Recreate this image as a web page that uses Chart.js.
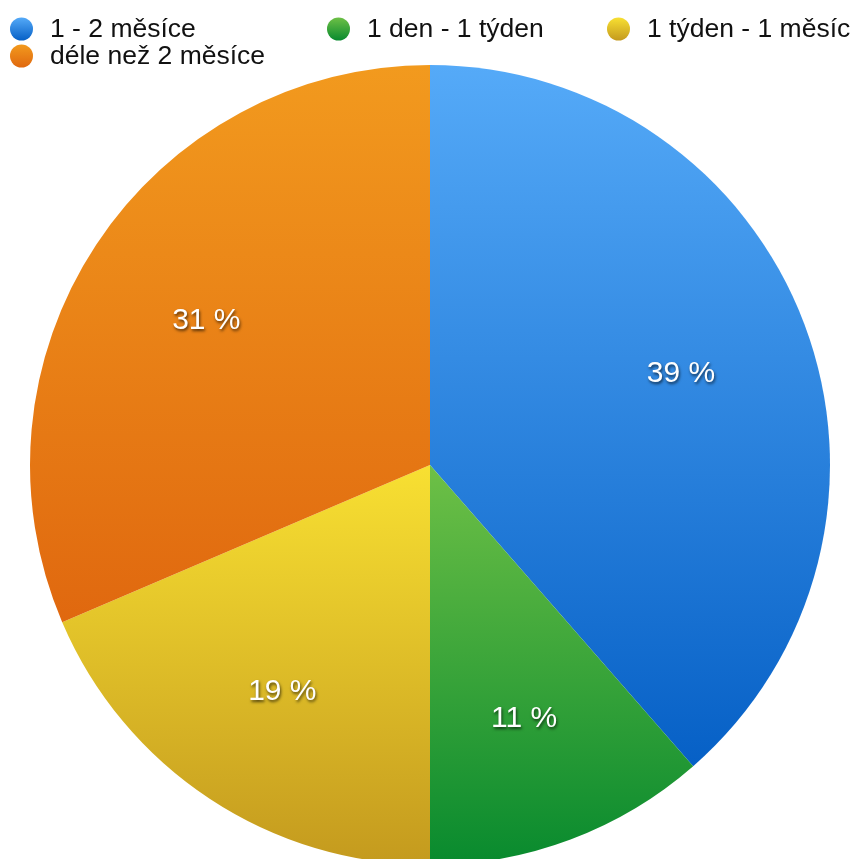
<!DOCTYPE html>
<html lang="cs">
<head>
    <meta charset="UTF-8">
    <script src="https://cdn.jsdelivr.net/npm/chart.js"></script>
    <title>Pie chart</title>
    <style>
        body {
            margin: 0;
            background: #ffffff;
            overflow: hidden;
        }
        .chart-box {
            width: 855px;
            height: 865px;
        }
    </style>
</head>
<body>
    <div class="chart-box">
        <canvas id="pieChart"></canvas>
    </div>

    <script>
        // Data (slice angles fit these answer counts)
        const categories = ['1 - 2 měsíce', '1 den - 1 týden', '1 týden - 1 měsíc', 'déle než 2 měsíce'];
        const counts = [27, 8, 13, 22];

        // top / bottom colour of each slice gradient
        const topColors = ['#55aaf8', '#6ec046', '#f8e032', '#f29a1e'];
        const bottomColors = ['#0660c6', '#088a2e', '#c49a1e', '#e0680f'];

        // legend slots: left edge of the dot and row
        const legendSlots = [
            { x: 10, row: 0 },
            { x: 327, row: 0 },
            { x: 607, row: 0 },
            { x: 10, row: 1 }
        ];

        const total = counts.reduce((a, b) => a + b, 0);

        // vertical extent of a slice, so each slice gets its own gradient
        function sliceExtent(chart, index) {
            const area = chart.chartArea;
            const cx = (area.left + area.right) / 2;
            const cy = (area.top + area.bottom) / 2;
            const r = Math.min(area.right - area.left, area.bottom - area.top) / 2;
            let before = 0;
            for (let i = 0; i < index; i++) before += counts[i];
            const a0 = -Math.PI / 2 + before / total * 2 * Math.PI;
            const a1 = a0 + counts[index] / total * 2 * Math.PI;
            const ys = [cy, cy + r * Math.sin(a0), cy + r * Math.sin(a1)];
            // does the arc pass through the top or bottom of the circle?
            for (const k of [-0.5, 0.5, 1.5]) {
                const a = k * Math.PI;
                if (a > a0 && a < a1) ys.push(cy + r * Math.sin(a));
            }
            return [Math.min(...ys), Math.max(...ys)];
        }

        function sliceFill(context) {
            const chart = context.chart;
            if (!chart.chartArea) return topColors[context.dataIndex];
            const i = context.dataIndex;
            const [y0, y1] = sliceExtent(chart, i);
            const g = chart.ctx.createLinearGradient(0, y0, 0, y1);
            g.addColorStop(0, topColors[i]);
            g.addColorStop(1, bottomColors[i]);
            return g;
        }

        // percentage labels inside the slices
        const sliceLabels = {
            id: 'sliceLabels',
            afterDatasetsDraw(chart) {
                const ctx = chart.ctx;
                const meta = chart.getDatasetMeta(0);
                ctx.save();
                ctx.font = '30px "Liberation Sans", Arial, sans-serif';
                ctx.fillStyle = '#ffffff';
                ctx.textAlign = 'center';
                ctx.textBaseline = 'middle';
                ctx.shadowColor = 'rgba(0, 0, 0, 0.65)';
                ctx.shadowOffsetX = 1;
                ctx.shadowOffsetY = 2;
                ctx.shadowBlur = 3;
                meta.data.forEach((arc, i) => {
                    const p = arc.getProps(['x', 'y', 'startAngle', 'endAngle', 'outerRadius'], true);
                    const mid = (p.startAngle + p.endAngle) / 2;
                    const rr = p.outerRadius * 0.67;
                    const pct = Math.round(counts[i] / total * 100);
                    ctx.fillText(pct + ' %', p.x + Math.cos(mid) * rr, p.y + Math.sin(mid) * rr + 3);
                });
                ctx.restore();
            }
        };

        // legend with gradient dots, laid out like the original
        const dotLegend = {
            id: 'dotLegend',
            afterDraw(chart) {
                const ctx = chart.ctx;
                ctx.save();
                ctx.font = '26.5px "Liberation Sans", Arial, sans-serif';
                ctx.textBaseline = 'middle';
                categories.forEach((name, i) => {
                    const slot = legendSlots[i];
                    const cy = 29 + slot.row * 27;
                    const cx = slot.x + 11.5;
                    const g = ctx.createLinearGradient(0, cy - 11.5, 0, cy + 11.5);
                    g.addColorStop(0, topColors[i]);
                    g.addColorStop(1, bottomColors[i]);
                    ctx.fillStyle = g;
                    ctx.beginPath();
                    ctx.arc(cx, cy, 11.5, 0, Math.PI * 2);
                    ctx.fill();
                    ctx.fillStyle = '#111111';
                    ctx.fillText(name, slot.x + 40, cy + 1);
                });
                ctx.restore();
            }
        };

        new Chart(document.getElementById('pieChart'), {
            type: 'pie',
            data: {
                labels: categories,
                datasets: [{
                    data: counts,
                    backgroundColor: sliceFill,
                    borderWidth: 0
                }]
            },
            options: {
                responsive: true,
                maintainAspectRatio: false,
                animation: false,
                layout: {
                    padding: { top: 65, left: 30, right: 25, bottom: 0 }
                },
                plugins: {
                    legend: { display: false },
                    tooltip: { enabled: false }
                }
            },
            plugins: [sliceLabels, dotLegend]
        });
    </script>
</body>
</html>
